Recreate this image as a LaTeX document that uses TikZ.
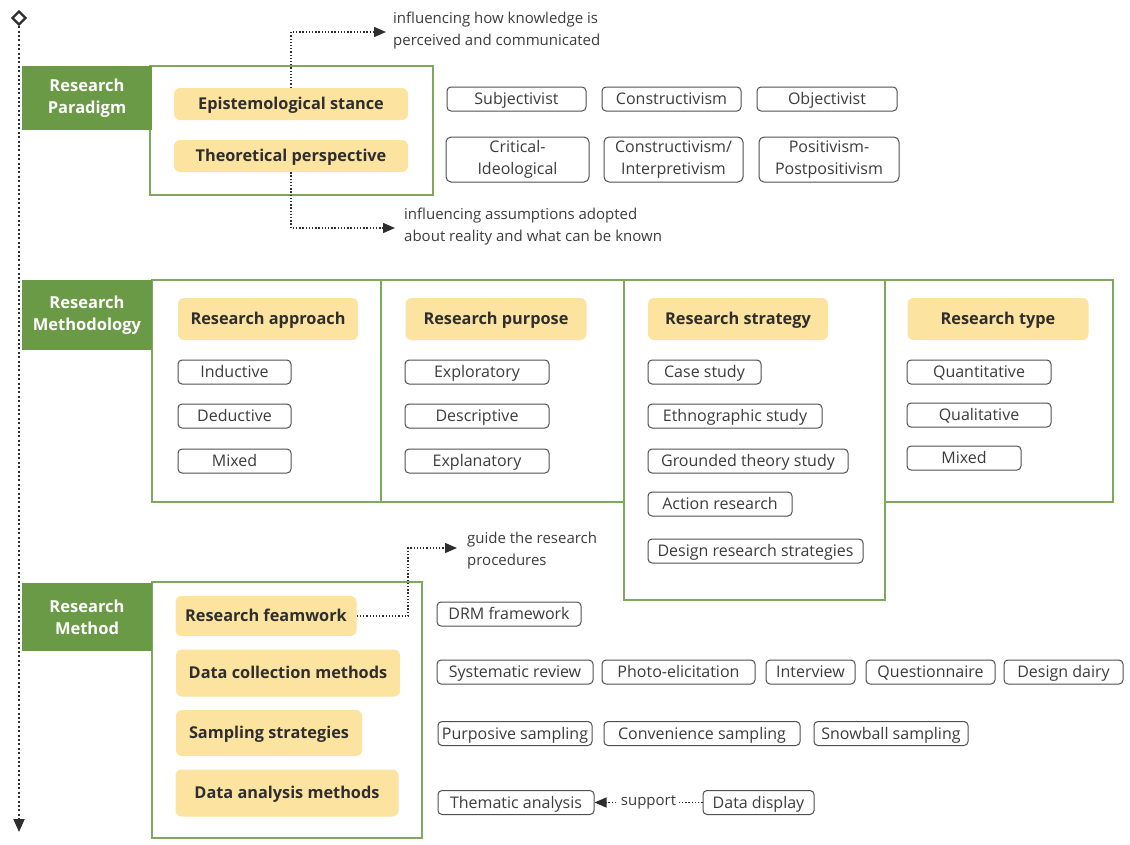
\documentclass[tikz,border=0pt]{standalone}
\usepackage{fontspec}
\setmainfont{Open Sans}
\usetikzlibrary{arrows.meta,shapes.geometric}
\definecolor{leaf}{HTML}{6B9A46}
\definecolor{leafline}{HTML}{7DA85E}
\definecolor{sand}{HTML}{FDE3A0}
\definecolor{ink}{HTML}{2E2E2E}
\definecolor{edge}{HTML}{505050}
\definecolor{soft}{HTML}{3C3C3C}
\begin{document}
\begin{tikzpicture}[x=1pt,y=-1pt,
  head/.style={fill=sand, rounded corners=6pt, text=ink, inner sep=0pt,
    text height=11.6pt, text depth=0pt,
    font=\bfseries\fontsize{16.3}{19}\selectfont},
  opt/.style={draw=edge, line width=1pt, rounded corners=4pt, fill=white, text=soft,
    inner sep=0pt, minimum height=24pt, text height=11.4pt, text depth=0pt,
    font=\fontsize{16}{19}\selectfont},
  opttwo/.style={draw=edge, line width=1pt, rounded corners=5pt, fill=white, text=soft,
    inner sep=0pt, minimum height=45pt, align=center, font=\fontsize{16}{22}\selectfont},
  tag/.style={fill=leaf, text=white, inner sep=0pt, align=center,
    font=\bfseries\fontsize{16.5}{22}\selectfont},
  frame/.style={draw=leafline, line width=1.6pt},
  note/.style={text=soft, inner sep=0pt, align=left, anchor=west,
    font=\fontsize{15}{22}\selectfont},
  conn/.style={draw=ink, line width=1.4pt, dash pattern=on 1.3pt off 1.9pt,
    -{Triangle[length=12pt,width=10pt]}},
]
\useasboundingbox (0,0) rectangle (1130,844);

% ---------- timeline ----------
\node[diamond, draw=ink, line width=2.2pt, minimum size=14pt, inner sep=0pt, fill=white] (start) at (19,18) {};
\coordinate (finish) at (19,832);
\draw[draw=ink, line width=2pt, dash pattern=on 2pt off 2.4pt,
  -{Triangle[length=13pt,width=11pt]}] (start.south) -- (finish);

% ---------- research paradigm ----------
\draw[frame] (150,66) rectangle (433,195);
\node[tag, minimum width=130pt, minimum height=64pt] (lpar) at (87,98) {Research\\Paradigm};
\node[head, minimum width=234pt, minimum height=32pt] (epi) at (291,104) {Epistemological stance};
\node[head, minimum width=234pt, minimum height=32pt] (theo) at (291,156) {Theoretical perspective};

\node[opt, minimum width=139pt] (subj) at (516.5,99) {Subjectivist};
\node[opt, minimum width=139pt] (cons) at (671.5,99) {Constructivism};
\node[opt, minimum width=140pt] (obj) at (827,99) {Objectivist};
\node[opttwo, minimum width=143pt] (crit) at (517.5,159.5) {Critical-\\Ideological};
\node[opttwo, minimum width=139pt] (cint) at (673.5,159.5) {Constructivism/\\Interpretivism};
\node[opttwo, minimum width=140pt] (posi) at (829,159.5) {Positivism-\\Postpositivism};

\node[note] (inf1) at (393,31) {influencing how knowledge is\\perceived and communicated};
\node[note] (inf2) at (404,227) {influencing assumptions adopted\\about reality and what can be known};
\coordinate (inf1tip) at (386,32);
\coordinate (inf2tip) at (395,228);
\draw[conn] (epi.north) |- (inf1tip);
\draw[conn] (theo.south) |- (inf2tip);

% ---------- research methodology ----------
\draw[frame] (152,280) rectangle (381,502);
\draw[frame] (381,280) rectangle (624,502);
\draw[frame] (885,280) rectangle (1113,502);
\draw[frame] (624,280) rectangle (885,600);
\node[tag, minimum width=130pt, minimum height=70pt] (lmet) at (87,315) {Research\\Methodology};

\node[head, minimum width=180pt, minimum height=42pt] (rapp) at (268,319) {Research approach};
\node[head, minimum width=181pt, minimum height=42pt] (rpur) at (496,319) {Research purpose};
\node[head, minimum width=180pt, minimum height=42pt] (rstr) at (738,319) {Research strategy};
\node[head, minimum width=181pt, minimum height=42pt] (rtyp) at (998,319) {Research type};

\node[opt, minimum width=113pt] (ind) at (234.5,372) {Inductive};
\node[opt, minimum width=113pt] (ded) at (234.5,416) {Deductive};
\node[opt, minimum width=113pt] (mixa) at (234.5,461) {Mixed};

\node[opt, minimum width=144pt] (expl) at (477,372) {Exploratory};
\node[opt, minimum width=144pt] (desc) at (477,416) {Descriptive};
\node[opt, minimum width=144pt] (expn) at (477,461) {Explanatory};

\node[opt, minimum width=113pt] (case) at (704.5,372) {Case study};
\node[opt, minimum width=174pt] (ethn) at (735,416) {Ethnographic study};
\node[opt, minimum width=200pt] (grnd) at (748,461) {Grounded theory study};
\node[opt, minimum width=144pt] (actn) at (720,504) {Action research};
\node[opt, minimum width=215pt] (dsrs) at (755.5,551) {Design research strategies};

\node[opt, minimum width=144pt] (quan) at (979,372) {Quantitative};
\node[opt, minimum width=144pt] (qual) at (979,415) {Qualitative};
\node[opt, minimum width=114pt] (mixb) at (964,458) {Mixed};

% ---------- research method ----------
\draw[frame] (152,582) rectangle (422,838);
\node[tag, minimum width=130pt, minimum height=68pt] (lmth) at (87,617) {Research\\Method};

\node[head, minimum width=181pt, minimum height=40pt] (rfw) at (266,616) {Research feamwork};
\node[head, minimum width=224pt, minimum height=47pt] (dcm) at (288,673) {Data collection methods};
\node[head, minimum width=186pt, minimum height=46pt] (samp) at (269,733) {Sampling strategies};
\node[head, minimum width=223pt, minimum height=47pt] (dam) at (287,793) {Data analysis methods};

\node[note] (guide) at (467,551) {guide the research\\procedures};
\coordinate (bend) at (408,616);
\coordinate (guidetip) at (457,548);
\draw[conn] (rfw.east) -- (bend) |- (guidetip);

\node[opt, minimum width=144pt] (drm) at (509,614) {DRM framework};

\node[opt, minimum width=156pt] (sysr) at (515,672) {Systematic review};
\node[opt, minimum width=153pt] (phot) at (678.5,672) {Photo-elicitation};
\node[opt, minimum width=89pt] (intv) at (810.5,672) {Interview};
\node[opt, minimum width=129pt] (ques) at (930.5,672) {Questionnaire};
\node[opt, minimum width=119pt] (ddry) at (1063.5,672) {Design dairy};

\node[opt, minimum width=154pt] (purp) at (515,733.5) {Purposive sampling};
\node[opt, minimum width=196pt] (conv) at (702,733.5) {Convenience sampling};
\node[opt, minimum width=154pt] (snow) at (891,733.5) {Snowball sampling};

\node[opt, minimum width=156pt] (them) at (516,802.5) {Thematic analysis};
\node[opt, minimum width=111pt] (disp) at (758.5,802.5) {Data display};
\draw[conn] (disp.west) -- node[fill=white, inner sep=3pt, text=soft,
  font=\fontsize{15}{18}\selectfont] (sup) {support} (them.east);
\end{tikzpicture}
\end{document}
